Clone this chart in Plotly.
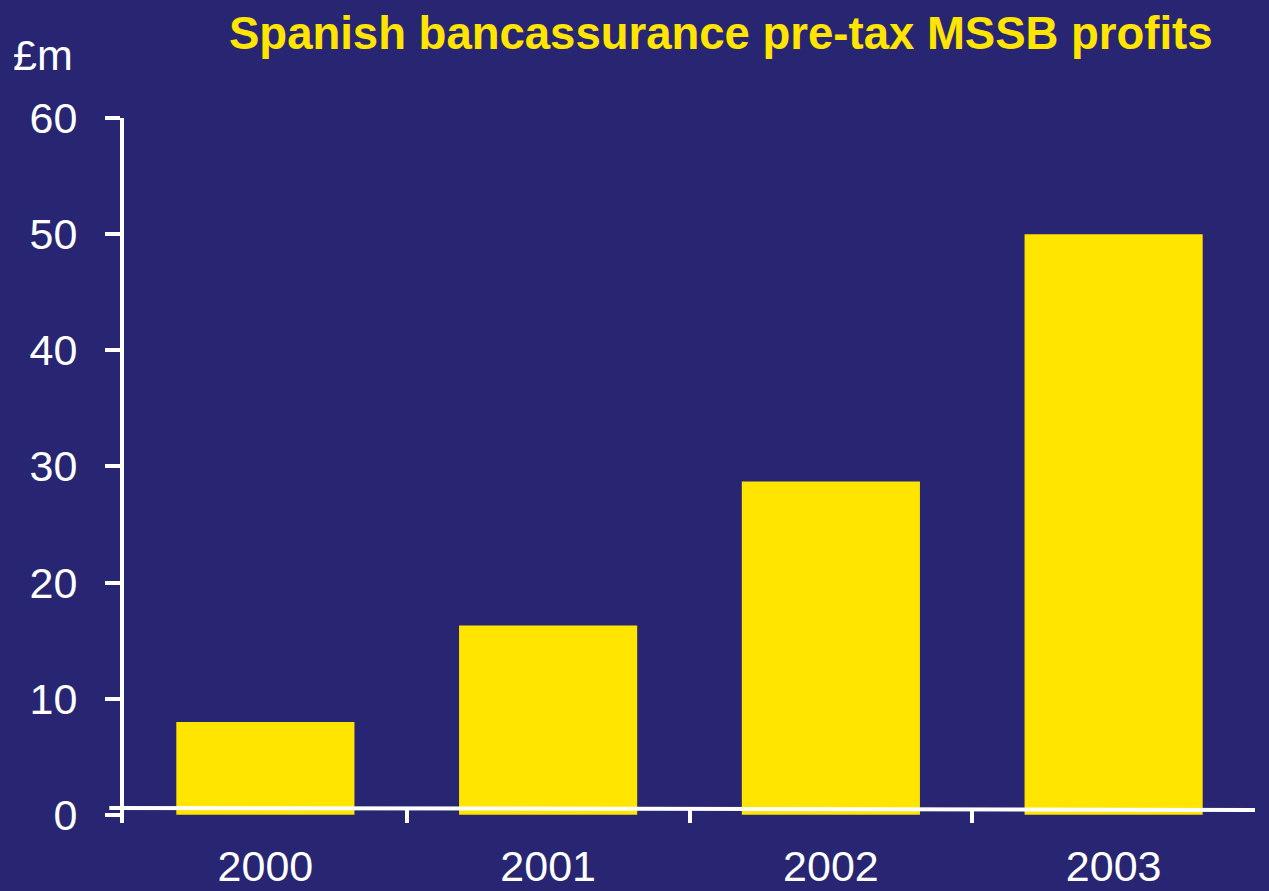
import plotly.graph_objects as go

# Pre-tax MSSB profits, £m
years = ["2000", "2001", "2002", "2003"]
profits = [8.0, 16.3, 28.7, 50.0]
y_ticks = [0, 10, 20, 30, 40, 50, 60]

NAVY = "#282672"
YELLOW = "#FFE500"
WHITE = "#FFFFFF"
FONT = "Liberation Sans, Arial, sans-serif"

fig = go.Figure(
    go.Bar(
        x=years,
        y=profits,
        marker=dict(color=YELLOW, line=dict(width=0)),
        width=0.63,
        hoverinfo="x+y",
    )
)

fig.update_layout(
    width=1269,
    height=891,
    paper_bgcolor=NAVY,
    plot_bgcolor=NAVY,
    margin=dict(l=124, r=14, t=118, b=68),
    showlegend=False,
    font=dict(family=FONT, color=WHITE, size=43),
    title=dict(
        text="<b>Spanish bancassurance pre-tax MSSB profits</b>",
        font=dict(family=FONT, color=YELLOW, size=45.5),
        x=0.568,
        xanchor="center",
        y=0.963,
        yanchor="middle",
    ),
)

fig.update_xaxes(
    type="category",
    range=[-0.5, 3.5],
    automargin=False,
    showgrid=False,
    zeroline=False,
    showline=False,
    ticks="inside",
    tickson="boundaries",
    ticklen=13,
    tickwidth=4,
    tickcolor=WHITE,
    tickfont=dict(family=FONT, size=43, color=WHITE),
    ticklabelstandoff=14,
)

fig.update_yaxes(
    range=[-0.7, 60],
    automargin=False,
    tickvals=y_ticks,
    showgrid=False,
    zeroline=False,
    showline=True,
    linecolor=WHITE,
    linewidth=4,
    ticks="outside",
    ticklen=15,
    tickwidth=4,
    tickcolor=WHITE,
    tickfont=dict(family=FONT, size=43, color=WHITE),
    ticklabelstandoff=19,
)

# Baseline drawn across the category axis at zero
fig.add_shape(
    type="line",
    xref="paper",
    yref="y",
    x0=-0.013,
    x1=1.0,
    y0=0.6,
    y1=0.43,
    line=dict(color=WHITE, width=4),
    layer="above",
)

# Unit label above the value axis
fig.add_annotation(
    text="£m",
    xref="paper",
    yref="paper",
    x=-0.1,
    y=1.09,
    xanchor="left",
    yanchor="middle",
    showarrow=False,
    font=dict(family=FONT, size=43, color=WHITE),
)

fig.write_html("out.html")
